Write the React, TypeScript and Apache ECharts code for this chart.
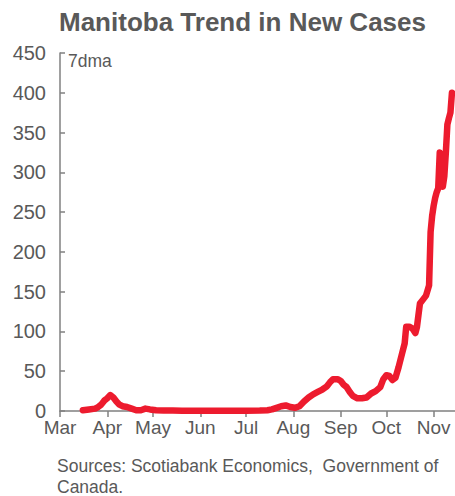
import React, { useEffect, useRef } from "react";
import * as echarts from "echarts";

const titleText = "Manitoba Trend in New Cases";
const unitLabel = "7dma";
const sourceText = "Sources: Scotiabank Economics,  Government of\nCanada.";
const monthLabels = ["Mar", "Apr", "May", "Jun", "Jul", "Aug", "Sep", "Oct", "Nov"];
const yTicks = [0, 50, 100, 150, 200, 250, 300, 350, 400, 450];

// 2020 dates (MM-DD) and 7-day moving average of new cases
const dates = [
  "03-16", "03-20", "03-24", "03-26", "03-28", "03-30", "04-01", "04-03", "04-05", "04-07",
  "04-09", "04-11", "04-14", "04-17", "04-20", "04-23", "04-26", "04-29", "05-03", "05-08",
  "05-14", "05-20", "06-01", "06-15", "07-01", "07-10", "07-15", "07-18", "07-21", "07-24",
  "07-27", "07-30", "08-02", "08-05", "08-08", "08-11", "08-14", "08-17", "08-20", "08-23",
  "08-25", "08-27", "08-30", "09-01", "09-03", "09-05", "09-07", "09-09", "09-12", "09-15",
  "09-18", "09-21", "09-24", "09-27", "09-29", "10-01", "10-03", "10-05", "10-07", "10-09",
  "10-11", "10-13", "10-14", "10-16", "10-18", "10-20", "10-21", "10-22", "10-23", "10-25",
  "10-27", "10-29", "10-30", "10-31", "11-01", "11-02", "11-03", "11-04", "11-05", "11-06",
  "11-07", "11-08", "11-09", "11-10", "11-11", "11-12", "11-13",
];
const cases = [
  1, 2, 3, 5, 8, 13, 16, 20, 17, 12,
  8, 6, 5, 3, 1, 1, 3, 2, 1, 0.5,
  0.5, 0.3, 0.2, 0.3, 0.2, 0.5, 1, 2, 4, 6,
  7, 5, 4, 6, 12, 17, 21, 24, 27, 31,
  36, 40, 40, 38, 33, 30, 24, 19, 16, 16,
  17, 22, 25, 30, 40, 45, 44, 39, 42, 55,
  70, 85, 106, 106, 104, 98, 105, 120, 135, 140,
  145, 158, 225, 245, 258, 268, 275, 280, 325, 318,
  282, 295, 325, 360, 368, 375, 400,
];

const YEAR = 2020;
const DAY = 86400000;
const origin = Date.UTC(YEAR, 2, 1);
const dayIndex = (mmdd: string) => {
  const [m, d] = mmdd.split("-").map(Number);
  return Math.round((Date.UTC(YEAR, m - 1, d) - origin) / DAY);
};
const monthStarts = monthLabels.map((_, i) => Math.round((Date.UTC(YEAR, 2 + i, 1) - origin) / DAY));
const axisEnd = dayIndex("11-15");

export default function App() {
  const ref = useRef<HTMLDivElement>(null);
  useEffect(() => {
    document.body.style.margin = "0";
    const chart = echarts.init(ref.current!, null, { renderer: "svg" });
    const gray = "#595959";
    const axisGray = "#808080";
    const font = "'Liberation Sans', Arial, sans-serif";
    chart.setOption({
      animation: false,
      textStyle: { fontFamily: font },
      title: {
        text: titleText,
        left: 54,
        top: 4,
        textStyle: { fontSize: 26, fontWeight: "bold", color: gray, fontFamily: font },
      },
      grid: { left: 60, right: 0, top: 53, bottom: 85, containLabel: false },
      xAxis: {
        type: "value",
        min: 0,
        max: axisEnd,
        splitLine: { show: false },
        axisLine: { show: true, lineStyle: { color: axisGray, width: 1.5 } },
        axisTick: { show: true, customValues: monthStarts, length: 6, lineStyle: { color: axisGray, width: 1.5 } },
        axisLabel: {
          customValues: monthStarts,
          formatter: (v: number) => monthLabels[monthStarts.indexOf(Math.round(v))] ?? "",
          color: gray,
          fontSize: 19,
          margin: 7,
          fontFamily: font,
        },
      },
      yAxis: {
        type: "value",
        min: 0,
        max: 450,
        interval: 50,
        splitLine: { show: false },
        axisLine: { show: true, lineStyle: { color: axisGray, width: 1.5 } },
        axisTick: { show: true, inside: true, length: 5, lineStyle: { color: axisGray, width: 1.5 } },
        axisLabel: {
          color: gray,
          fontSize: 20,
          margin: 14,
          fontFamily: font,
          formatter: (v: number) => (yTicks.includes(v) ? String(v) : ""),
        },
      },
      graphic: [
        {
          type: "text",
          left: 68,
          top: 52,
          style: { text: unitLabel, fontSize: 17.5, fill: gray, fontFamily: font },
        },
        {
          type: "text",
          left: 57,
          top: 455,
          style: { text: sourceText, fontSize: 17.5, lineHeight: 21, fill: gray, fontFamily: font },
        },
      ],
      series: [
        {
          type: "line",
          data: dates.map((d, i) => [dayIndex(d), cases[i]]),
          showSymbol: false,
          lineStyle: { color: "#ED1B2E", width: 6.5, cap: "round", join: "round" },
        },
      ],
    });
    return () => chart.dispose();
  }, []);
  return <div ref={ref} style={{ width: 455, height: 496 }} />;
}
